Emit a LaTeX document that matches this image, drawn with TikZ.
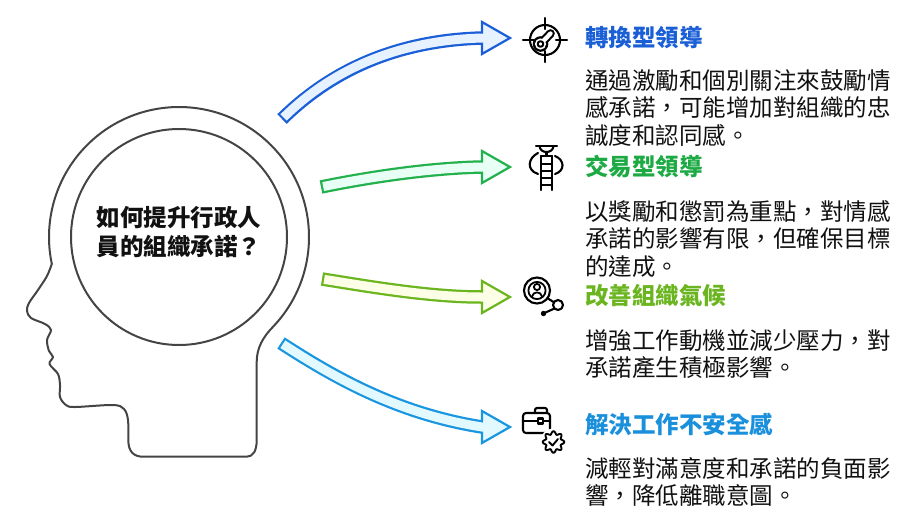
\documentclass[tikz,border=0pt]{standalone}
\usepackage{fontspec}
\setmainfont{Noto Sans CJK TC}
\usetikzlibrary{calc}

\definecolor{inkA}{HTML}{1B5FD8}\definecolor{fillA}{HTML}{E6F2FF}
\definecolor{inkB}{HTML}{22B14C}\definecolor{fillB}{HTML}{E8FFF6}
\definecolor{inkC}{HTML}{6BB51F}\definecolor{fillC}{HTML}{FCFFE6}
\definecolor{inkD}{HTML}{1A96E0}\definecolor{fillD}{HTML}{E2FAFF}
\definecolor{ttlA}{HTML}{1A5FD6}\definecolor{ttlB}{HTML}{1DAA45}
\definecolor{ttlC}{HTML}{6AB520}\definecolor{ttlD}{HTML}{1A8FDC}
\definecolor{bodyink}{HTML}{111111}
\definecolor{headink}{HTML}{444444}

\begin{document}
\begin{tikzpicture}[x=1pt,y=-1pt,line join=round,
  shaftout/.style={draw=#1,line width=13.5pt},
  shaftin/.style={draw=#1,line width=9pt,shorten <=2.2pt},
  tiphead/.style 2 args={draw=#1,fill=#2,line width=2.2pt,line join=miter},
  headline/.style={draw=headink,line width=2pt},
  ttl/.style={anchor=base west,inner sep=0pt,font=\fontsize{23.5}{27.5}\selectfont\bfseries},
  desc/.style={anchor=base west,inner sep=0pt,text=bodyink},
  ico/.style={draw=black,line width=2.1pt,line cap=round}]

\useasboundingbox (0,0) rectangle (920,528);

% ---- head silhouette with the thought circle ----
\coordinate (hc) at (179,237);
\draw[headline] (256.7,440) -- (256.7,362)
  .. controls (256.7,348) and (263,337) .. ($(hc)+(43.6:130)$)
  arc[start angle=43.6,end angle=-192,radius=130]
  -- plot[smooth,tension=0.55] coordinates {(51.8,264) (47,276) (38,290) (29,303)
     (27,311) (31,318) (45,324) (51,330) (47,340) (49,351) (53,357) (49.5,364)
     (58,374) (60,385) (60,397) (66,405) (75,407) (113,405) (124,409) (128,420) (128.3,440)}
  .. controls (128.3,452) and (134,456.7) .. (143.3,456.7) -- (246.7,456.7)
  .. controls (253,456.7) and (256.7,451) .. (256.7,440) -- cycle;
\draw[headline] (hc) circle[radius=108];
\node[align=center,inner sep=0pt,font=\fontsize{23.5}{29}\selectfont\bfseries,text=bodyink]
  (question) at (179,232.5) {如何提升行政人\\員的組織承諾？};

% ---- fat arrows ----
\coordinate (tA) at (282,119); \coordinate (bA) at (482,38);
\coordinate (tB) at (321,187); \coordinate (bB) at (482,167);
\coordinate (tC) at (322,279); \coordinate (bC) at (482,297);
\coordinate (tD) at (281,343); \coordinate (bD) at (482,427);

\draw[shaftout=inkA] (tA) .. controls (340,62) and (410,40) .. (bA);
\draw[tiphead={inkA}{fillA}] (482,22) -- (510,38) -- (482,54) -- cycle;
\draw[shaftin=fillA] (tA) .. controls (340,62) and (410,40) .. (bA) -- ++(4,0);

\draw[shaftout=inkB] (tB) .. controls (370,177) and (430,168) .. (bB);
\draw[tiphead={inkB}{fillB}] (482,151) -- (510,167) -- (482,183) -- cycle;
\draw[shaftin=fillB] (tB) .. controls (370,177) and (430,168) .. (bB) -- ++(4,0);

\draw[shaftout=inkC] (tC) .. controls (372,287) and (430,297) .. (bC);
\draw[tiphead={inkC}{fillC}] (482,281) -- (510,297) -- (482,313) -- cycle;
\draw[shaftin=fillC] (tC) .. controls (372,287) and (430,297) .. (bC) -- ++(4,0);

\draw[shaftout=inkD] (tD) .. controls (338,380) and (400,414) .. (bD);
\draw[tiphead={inkD}{fillD}] (482,411) -- (510,427) -- (482,443) -- cycle;
\draw[shaftin=fillD] (tD) .. controls (338,380) and (400,414) .. (bD) -- ++(4,0.6);

% ---- icon: target with gauge ----
\coordinate (iA) at (545,40);
\draw[ico] (iA) circle[radius=15];
\draw[ico] ($(iA)+(0,-22)$) -- ($(iA)+(0,-11)$);
\draw[ico] ($(iA)+(0,22)$) -- ($(iA)+(0,11)$);
\draw[ico] ($(iA)+(-22,0)$) -- ($(iA)+(-11,0)$);
\draw[ico] ($(iA)+(22,0)$) -- ($(iA)+(11,0)$);
\coordinate (kc) at (540.5,44); \coordinate (ke) at (550.5,33.5);
\fill[black] (kc) circle[radius=7.8];
\draw[black,line width=8.6pt,line cap=round] (kc) -- (ke);
\fill[white] (kc) circle[radius=5.6];
\draw[white,line width=4.4pt,line cap=round] (kc) -- (ke);
\draw[black,line width=2pt] (kc) circle[radius=2.8];

% ---- icon: trophy on a ladder ----
\draw[ico] (536,146) -- (557,146);
\draw[ico] (539.5,146) .. controls (540,154) and (553,154) .. (553.5,146);
\draw[ico] (546.5,153) -- (546.5,156);
\draw[ico] (541,156) -- (552,156);
\draw[ico] (541,156) -- (541,190);
\draw[ico] (552,156) -- (552,190);
\foreach \yy in {164,171,178,185} \draw[ico] (541,\yy) -- (552,\yy);
\draw[ico] (538,153) .. controls (528,158) and (526,170) .. (538,174);
\draw[ico] (555,156) .. controls (565,160) and (565,171) .. (555,174);

% ---- icon: person in a network ----
\coordinate (iC) at (537,290.5);
\draw[ico] (iC) circle[radius=13];
\draw[ico,line width=1.8pt] (iC) circle[radius=8.6];
\draw[ico,line width=1.8pt] (537,287) circle[radius=3.1];
\draw[ico,line width=1.8pt] (532,296.5) .. controls (533,291) and (541,291) .. (542,296.5);
\draw[ico] (548,298.5) -- (553.5,302);
\draw[ico] (558,305) circle[radius=5];
\draw[ico] (554.5,308.5) -- (545.5,312.5);
\fill[black] (543.5,313.5) circle[radius=2.7];

% ---- icon: briefcase with a check badge ----
\draw[ico,rounded corners=3pt] (523,413) rectangle (550,433);
\draw[ico,rounded corners=2pt] (535,413) -- (535,408) -- (547,408) -- (547,413);
\draw[ico] (523,421) -- (550,421);
\draw[ico,fill=white] (538,418.5) rectangle (543,423.5);
\fill[white] (553.5,442) circle[radius=13.5];
\draw[ico,line width=1.9pt,shift={(553.5,442)}]
  plot[domain=0:360,samples=97,smooth] (\x:{9.3+1.5*cos(8*\x)}) -- cycle;
\draw[ico,line width=1.9pt] (549,442) -- (552.5,445.5) -- (558,439);

% ---- headings and explanations ----
\node[ttl,text=ttlA] (hA) at (585,46) {轉換型領導};
\node[ttl,text=ttlB] (hB) at (585,175) {交易型領導};
\node[ttl,text=ttlC] (hC) at (585,304) {改善組織氣候};
\node[ttl,text=ttlD] (hD) at (585,433) {解決工作不安全感};

\node[desc] (dA) at (585,89) {\parbox[t]{330pt}{\fontsize{23.5}{27.5}\selectfont
  通過激勵和個別關注來鼓勵情\\感承諾，可能增加對組織的忠\\誠度和認同感。}};
\node[desc] (dB) at (585,220) {\parbox[t]{330pt}{\fontsize{23.5}{27.5}\selectfont
  以獎勵和懲罰為重點，對情感\\承諾的影響有限，但確保目標\\的達成。}};
\node[desc] (dC) at (585,349) {\parbox[t]{330pt}{\fontsize{23.5}{27.5}\selectfont
  增強工作動機並減少壓力，對\\承諾產生積極影響。}};
\node[desc] (dD) at (585,477) {\parbox[t]{330pt}{\fontsize{23.5}{27.5}\selectfont
  減輕對滿意度和承諾的負面影\\響，降低離職意圖。}};
\end{tikzpicture}
\end{document}
